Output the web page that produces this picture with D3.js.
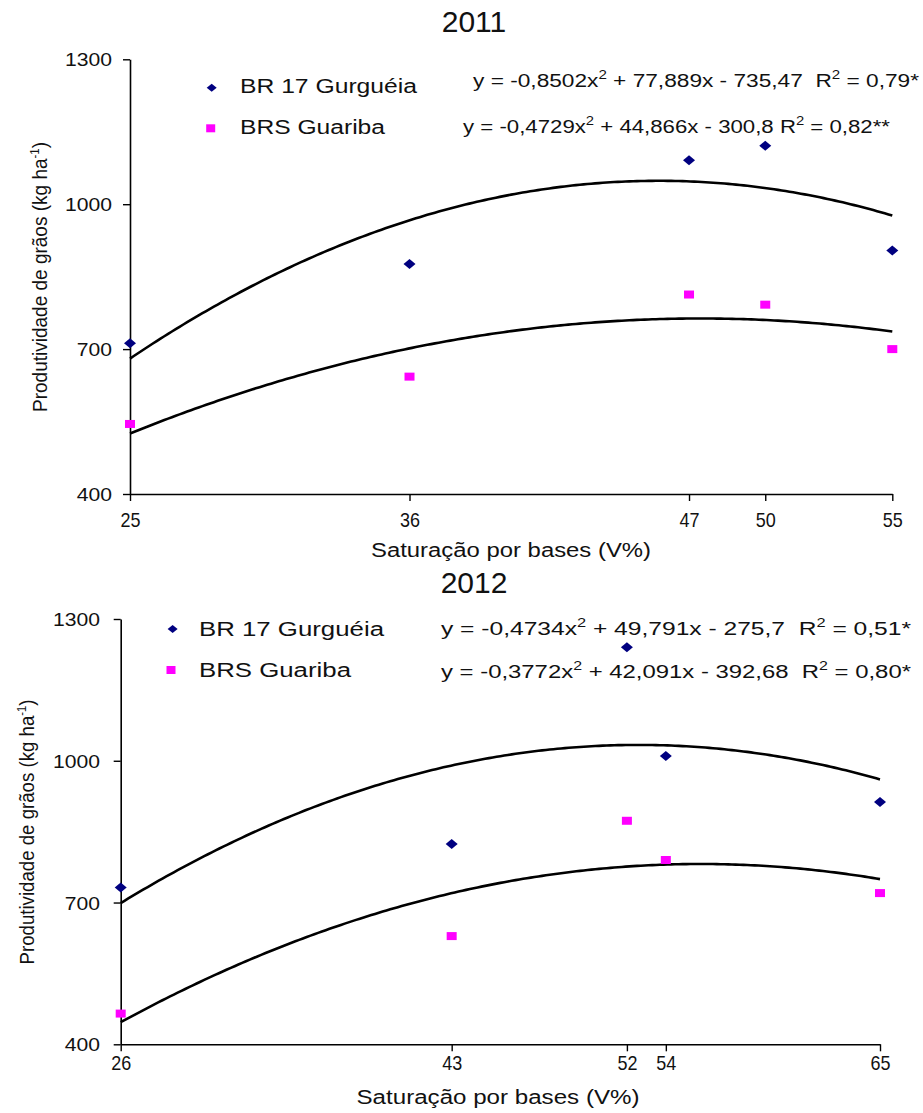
<!DOCTYPE html>
<html>
<head>
<meta charset="utf-8">
<script src="https://cdn.jsdelivr.net/npm/d3@7/dist/d3.min.js"></script>
<style>
  html, body { margin: 0; padding: 0; background: #fff; }
  svg { display: block; font-family: "Liberation Sans", Arial, sans-serif; }
  text { fill: #111; white-space: pre; }
</style>
</head>
<body>
<svg id="chart" width="923" height="1113"></svg>
<script>
// Base saturation levels (V%) and grain yield (kg/ha) per cultivar and year
const years = ["2011", "2012"];
const vSat2011 = [25, 36, 47, 50, 55];
const br17_2011 = [712, 876, 1091, 1121, 904];
const guariba_2011 = [545, 643, 813, 792, 700];
const vSat2012 = [26, 43, 52, 54, 65];
const br17_2012 = [732, 824, 1240, 1010, 913];
const guariba_2012 = [465, 629, 873, 790, 720];

// Quadratic fits: y = a*x^2 + b*x + c
const fitBr17_2011 = [-0.8502, 77.889, -735.47];
const fitGuariba_2011 = [-0.4729, 44.866, -300.8];
const fitBr17_2012 = [-0.4734, 49.791, -275.7];
const fitGuariba_2012 = [-0.3772, 42.091, -392.68];

// Equation labels, split around the superscripts
const eqBr17_2011 = ["y = -0,8502x", "2", " + 77,889x - 735,47  R", "2", " = 0,79*"];
const eqGuariba_2011 = ["y = -0,4729x", "2", " + 44,866x - 300,8 R", "2", " = 0,82**"];
const eqBr17_2012 = ["y = -0,4734x", "2", " + 49,791x - 275,7  R", "2", " = 0,51*"];
const eqGuariba_2012 = ["y = -0,3772x", "2", " + 42,091x - 392,68  R", "2", " = 0,80*"];

const seriesNames = ["BR 17 Gurguéia", "BRS Guariba"];
const yTicks = [400, 700, 1000, 1300];
const yDomain = [400, 1300];
const xTitle = "Saturação por bases (V%)";

const BR_COLOR = "#000080";
const GU_COLOR = "#ff00ff";

const panels = [
  {
    title: years[0], titleY: 32,
    xs: vSat2011, br: br17_2011, gu: guariba_2011,
    fits: [fitBr17_2011, fitGuariba_2011], eqs: [eqBr17_2011, eqGuariba_2011],
    xRange: [130, 892.3], yRange: [494, 59.3],
    legend: [{mx: 211.7, my: 87.7, tx: 240, ty: 93.3, w: 177}, {mx: 210.7, my: 128.3, tx: 240, ty: 134, w: 145}],
    eqPos: [{x: 473, y: 86.7, w: 446}, {x: 463, y: 133.3, w: 427}],
    xLabelY: 527, xTitleX: 511, xTitleY: 557, xTitleW: 280,
    yTitleX: 47, yTitleY: 277, yTitleW: 270, yLabelRight: 112
  },
  {
    title: years[1], titleY: 593,
    xs: vSat2012, br: br17_2012, gu: guariba_2012,
    fits: [fitBr17_2012, fitGuariba_2012], eqs: [eqBr17_2012, eqGuariba_2012],
    xRange: [120.7, 880], yRange: [1044.3, 619],
    legend: [{mx: 172.6, my: 629, tx: 199, ty: 636, w: 185}, {mx: 171, my: 670, tx: 199, ty: 677, w: 152}],
    eqPos: [{x: 441, y: 635, w: 470}, {x: 441, y: 678, w: 470}],
    xLabelY: 1070, xTitleX: 498, xTitleY: 1104, xTitleW: 283,
    yTitleX: 34, yTitleY: 832, yTitleW: 265, yLabelRight: 100
  }
];

const svg = d3.select("#chart");

function diamond(g, cx, cy, hw, hh, color) {
  g.append("path")
    .attr("d", `M${cx},${cy - hh}L${cx + hw},${cy}L${cx},${cy + hh}L${cx - hw},${cy}Z`)
    .attr("fill", color);
}
function square(g, cx, cy, w, h, color) {
  g.append("rect").attr("x", cx - w / 2).attr("y", cy - h / 2)
    .attr("width", w).attr("height", h).attr("fill", color);
}

panels.forEach(p => {
  const g = svg.append("g");
  const x = d3.scaleLinear().domain(d3.extent(p.xs)).range(p.xRange);
  const y = d3.scaleLinear().domain(yDomain).range(p.yRange);

  // Year title
  g.append("text").attr("x", 474).attr("y", p.titleY)
    .attr("text-anchor", "middle").attr("font-size", 30).text(p.title);

  // Y axis
  const yAxis = g.append("g").attr("transform", `translate(${p.xRange[0]},0)`)
    .call(d3.axisLeft(y).tickValues(yTicks).tickFormat(d3.format("d"))
      .tickSize(7).tickSizeOuter(0).tickPadding(0));
  yAxis.select(".domain").attr("stroke", "#000").attr("stroke-width", 1.6);
  yAxis.selectAll(".tick line").attr("stroke", "#000").attr("stroke-width", 1.4);
  yAxis.selectAll(".tick text")
    .attr("x", p.yLabelRight - p.xRange[0])
    .attr("dy", "0.36em")
    .attr("font-size", 18).attr("fill", "#111")
    .attr("font-family", "'Liberation Sans', Arial, sans-serif")
    .each(function (d) {
      const n = String(d).length;
      d3.select(this).attr("textLength", n * 11.75).attr("lengthAdjust", "spacingAndGlyphs");
    });

  // X axis
  const xAxis = g.append("g").attr("transform", `translate(0,${p.yRange[0]})`)
    .call(d3.axisBottom(x).tickValues(p.xs).tickFormat(d3.format("d")).tickSize(7).tickSizeOuter(0));
  xAxis.select(".domain").attr("stroke", "#000").attr("stroke-width", 1.6);
  xAxis.selectAll(".tick line").attr("stroke", "#000").attr("stroke-width", 1.4);
  xAxis.selectAll(".tick text")
    .attr("y", p.xLabelY - p.yRange[0]).attr("dy", 0)
    .attr("font-size", 21).attr("fill", "#111")
    .attr("font-family", "'Liberation Sans', Arial, sans-serif")
    .attr("textLength", 20).attr("lengthAdjust", "spacingAndGlyphs");

  // Axis titles
  g.append("text").attr("x", p.xTitleX).attr("y", p.xTitleY)
    .attr("text-anchor", "middle").attr("font-size", 20)
    .attr("textLength", p.xTitleW).attr("lengthAdjust", "spacingAndGlyphs")
    .text(xTitle);

  const yt = g.append("text")
    .attr("transform", `translate(${p.yTitleX},${p.yTitleY}) rotate(-90)`)
    .attr("text-anchor", "middle").attr("font-size", 20)
    .attr("textLength", p.yTitleW).attr("lengthAdjust", "spacingAndGlyphs");
  yt.append("tspan").text("Produtividade de grãos (kg ha");
  yt.append("tspan").attr("font-size", 12).attr("dy", -8).text("-1");
  yt.append("tspan").attr("dy", 8).text(")");

  // Fitted quadratic curves
  const line = d3.line().x(d => x(d[0])).y(d => y(d[1]));
  const [x0, x1] = d3.extent(p.xs);
  p.fits.forEach(c => {
    const pts = d3.range(0, 201).map(i => {
      const xv = x0 + (x1 - x0) * i / 200;
      return [xv, c[0] * xv * xv + c[1] * xv + c[2]];
    });
    g.append("path").datum(pts).attr("d", line)
      .attr("fill", "none").attr("stroke", "#000").attr("stroke-width", 2.6);
  });

  // Observed points
  p.xs.forEach((xv, i) => {
    diamond(g, x(xv), y(p.br[i]), 6, 5, BR_COLOR);
    square(g, x(xv), y(p.gu[i]), 10, 8, GU_COLOR);
  });

  // Legend
  diamond(g, p.legend[0].mx, p.legend[0].my, 5, 4, BR_COLOR);
  square(g, p.legend[1].mx, p.legend[1].my, 9, 8, GU_COLOR);
  p.legend.forEach((l, i) => {
    g.append("text").attr("x", l.tx).attr("y", l.ty).attr("font-size", 20)
      .attr("textLength", l.w).attr("lengthAdjust", "spacingAndGlyphs")
      .text(seriesNames[i]);
  });

  // Regression equations
  p.eqs.forEach((parts, i) => {
    const pos = p.eqPos[i];
    const t = g.append("text").attr("x", pos.x).attr("y", pos.y).attr("font-size", 18)
      .attr("textLength", pos.w).attr("lengthAdjust", "spacingAndGlyphs");
    parts.forEach((s, k) => {
      const sup = k % 2 === 1;
      t.append("tspan")
        .attr("font-size", sup ? 12 : 18)
        .attr("dy", sup ? -8 : (k > 0 ? 8 : 0))
        .text(s);
    });
  });
});
</script>
</body>
</html>
